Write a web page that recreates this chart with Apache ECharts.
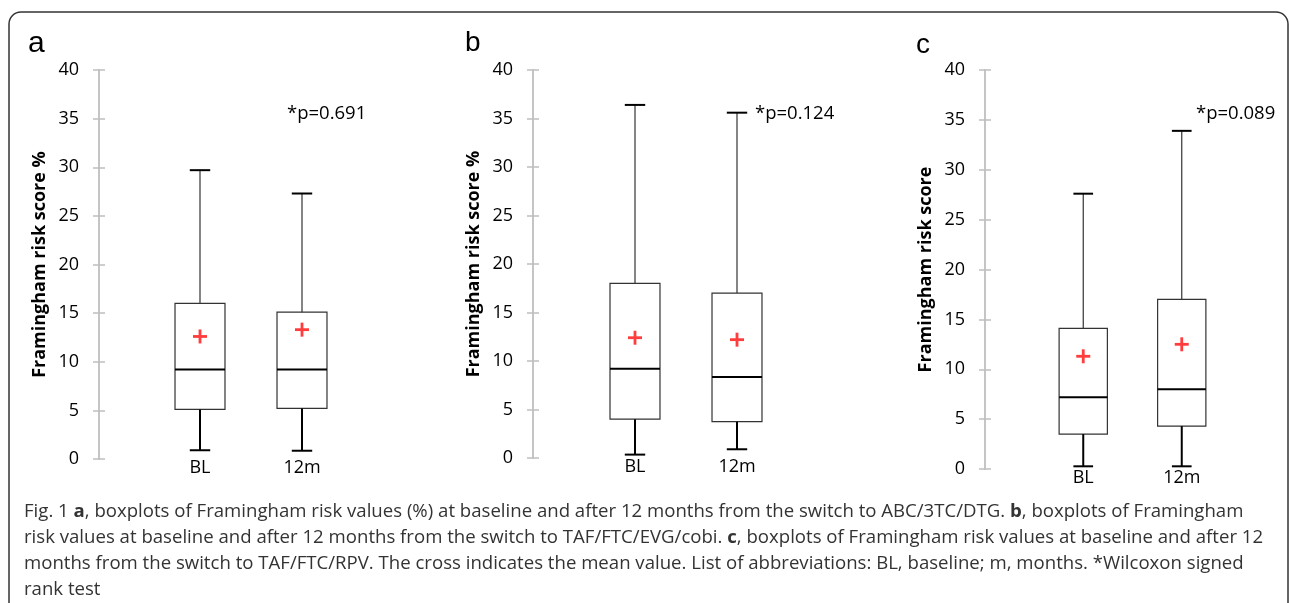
<!DOCTYPE html>
<html>
<head>
<meta charset="utf-8">
<script src="https://cdn.jsdelivr.net/npm/echarts@6/dist/echarts.min.js"></script>
<style>
html, body { margin: 0; padding: 0; background: #fff; }
#chart { width: 1290px; height: 603px; }
</style>
</head>
<body>
<div id="chart"></div>
<script>
// groups on the x axis
var groups = ['BL', '12m'];

// boxes: [min, Q1, median, Q3, max] per group
var boxA = [[0.9, 5.1, 9.2, 16.0, 29.7], [0.85, 5.2, 9.2, 15.1, 27.3]];
var boxB = [[0.35, 4.0, 9.2, 18.0, 36.4], [0.9, 3.75, 8.35, 17.0, 35.6]];
var boxC = [[0.27, 3.5, 7.2, 14.1, 27.6], [0.27, 4.3, 8.0, 17.0, 33.9]];

// mean values (the red crosses)
var meanA = [12.6, 13.3];
var meanB = [12.4, 12.2];
var meanC = [11.3, 12.5];

var pLabels = ['*p=0.691', '*p=0.124', '*p=0.089'];
var panelLetters = ['a', 'b', 'c'];
var axisNames = ['Framingham risk score %', 'Framingham risk score %', 'Framingham risk score'];

var FONT = '"Open Sans", "Noto Sans", sans-serif';

var grids = [
  { left: 149, top: 70, width: 204, height: 389 },
  { left: 584, top: 70, width: 204, height: 388 },
  { left: 1034, top: 70, width: 197, height: 399 }
];
var offsets = [50, 51, 49];

function renderBox(params, api) {
  var x = api.value(0);
  var band = api.size([1, 0])[0];
  var half = band * 0.245;
  var cap = band * 0.1;
  var pMin = api.coord([x, api.value(1)]);
  var pQ1 = api.coord([x, api.value(2)]);
  var pMed = api.coord([x, api.value(3)]);
  var pQ3 = api.coord([x, api.value(4)]);
  var pMax = api.coord([x, api.value(5)]);
  var cx = pMin[0];
  var thin = { stroke: '#333', lineWidth: 1.2 };
  var thick = { stroke: '#000', lineWidth: 2 };
  return {
    type: 'group',
    children: [
      { type: 'rect', shape: { x: cx - half, y: pQ3[1], width: half * 2, height: pQ1[1] - pQ3[1] }, style: { stroke: '#333', lineWidth: 1.2, fill: '#fff' } },
      { type: 'line', shape: { x1: cx - half, y1: pMed[1], x2: cx + half, y2: pMed[1] }, style: thick },
      { type: 'line', shape: { x1: cx, y1: pQ3[1], x2: cx, y2: pMax[1] }, style: thin },
      { type: 'line', shape: { x1: cx, y1: pQ1[1], x2: cx, y2: pMin[1] }, style: thick },
      { type: 'line', shape: { x1: cx - cap, y1: pMax[1], x2: cx + cap, y2: pMax[1] }, style: thick },
      { type: 'line', shape: { x1: cx - cap, y1: pMin[1], x2: cx + cap, y2: pMin[1] }, style: thick }
    ]
  };
}

function renderMean(params, api) {
  var p = api.coord([api.value(0), api.value(1)]);
  var s = 7;
  var st = { stroke: '#ff3d3d', lineWidth: 2.8 };
  return {
    type: 'group',
    children: [
      { type: 'line', shape: { x1: p[0] - s, y1: p[1], x2: p[0] + s, y2: p[1] }, style: st },
      { type: 'line', shape: { x1: p[0], y1: p[1] - s, x2: p[0], y2: p[1] + s }, style: st }
    ]
  };
}

var boxes = [boxA, boxB, boxC];
var means = [meanA, meanB, meanC];

var xAxes = [], yAxes = [], series = [];
grids.forEach(function (g, i) {
  xAxes.push({
    type: 'category', gridIndex: i, data: groups,
    axisLine: { show: false }, axisTick: { show: false },
    axisLabel: { fontSize: 18, color: '#000', fontFamily: FONT, margin: 0 }
  });
  yAxes.push({
    type: 'value', gridIndex: i, position: 'left', offset: offsets[i],
    min: 0, max: 40, interval: 5,
    name: axisNames[i], nameLocation: 'middle', nameGap: 50,
    nameTextStyle: { fontSize: 18, fontWeight: 'bold', color: '#000', fontFamily: FONT },
    axisLine: { show: true, lineStyle: { color: '#bfbfbf', width: 1.8 } },
    axisTick: { show: true, length: 6, lineStyle: { color: '#bfbfbf', width: 1.5 } },
    axisLabel: { fontSize: 18, color: '#000', fontFamily: FONT, margin: 20 },
    splitLine: { show: false }
  });
  yAxes.push({
    type: 'value', gridIndex: i, position: 'left', offset: offsets[i],
    min: 0, max: 40, interval: 5,
    axisLine: { show: false },
    axisTick: { show: true, inside: true, length: 6, lineStyle: { color: '#bfbfbf', width: 1.5 } },
    axisLabel: { show: false },
    splitLine: { show: false }
  });
  series.push({
    type: 'custom', xAxisIndex: i, yAxisIndex: i * 2,
    renderItem: renderBox,
    encode: { x: 0, y: [1, 2, 3, 4, 5] },
    data: boxes[i].map(function (b, k) { return [k].concat(b); })
  });
  series.push({
    type: 'custom', xAxisIndex: i, yAxisIndex: i * 2,
    renderItem: renderMean,
    encode: { x: 0, y: 1 },
    z: 5,
    data: means[i].map(function (m, k) { return [k, m]; })
  });
});

var graphics = [
  { type: 'rect', shape: { x: 9, y: 12, width: 1279, height: 700, r: 12 }, style: { fill: null, stroke: '#333', lineWidth: 1.5 }, silent: true },
  { type: 'text', left: 28, top: 29, style: { text: panelLetters[0], fontSize: 30, fontFamily: 'Liberation Sans, Arial, sans-serif', fill: '#000' } },
  { type: 'text', left: 465, top: 29, style: { text: panelLetters[1], fontSize: 28, fontFamily: 'Liberation Sans, Arial, sans-serif', fill: '#000' } },
  { type: 'text', left: 916, top: 31, style: { text: panelLetters[2], fontSize: 28, fontFamily: 'Liberation Sans, Arial, sans-serif', fill: '#000' } },
  { type: 'text', left: 287, top: 104, style: { text: pLabels[0], fontSize: 18.5, fontFamily: FONT, fill: '#000' } },
  { type: 'text', left: 755, top: 104, style: { text: pLabels[1], fontSize: 18.5, fontFamily: FONT, fill: '#000' } },
  { type: 'text', left: 1196, top: 104, style: { text: pLabels[2], fontSize: 18.5, fontFamily: FONT, fill: '#000' } },
  {
    type: 'text', left: 24, top: 499,
    style: {
      text: 'Fig. 1 {b|a}, boxplots of Framingham risk values (%) at baseline and after 12 months from the switch to ABC/3TC/DTG. {b|b}, boxplots of Framingham\n' +
        'risk values at baseline and after 12 months from the switch to TAF/FTC/EVG/cobi. {b|c}, boxplots of Framingham risk values at baseline and after 12\n' +
        'months from the switch to TAF/FTC/RPV. The cross indicates the mean value. List of abbreviations: BL, baseline; m, months. *Wilcoxon signed\n' +
        'rank test',
      fontSize: 18.6, lineHeight: 26, fontFamily: FONT, fill: '#333',
      rich: { b: { fontWeight: 'bold', fontSize: 18.6, lineHeight: 26, fontFamily: FONT, fill: '#333' } }
    }
  }
];

var chart = echarts.init(document.getElementById('chart'));
chart.setOption({
  animation: false,
  backgroundColor: '#fff',
  grid: grids,
  xAxis: xAxes,
  yAxis: yAxes,
  series: series,
  graphic: graphics
});
</script>
</body>
</html>
